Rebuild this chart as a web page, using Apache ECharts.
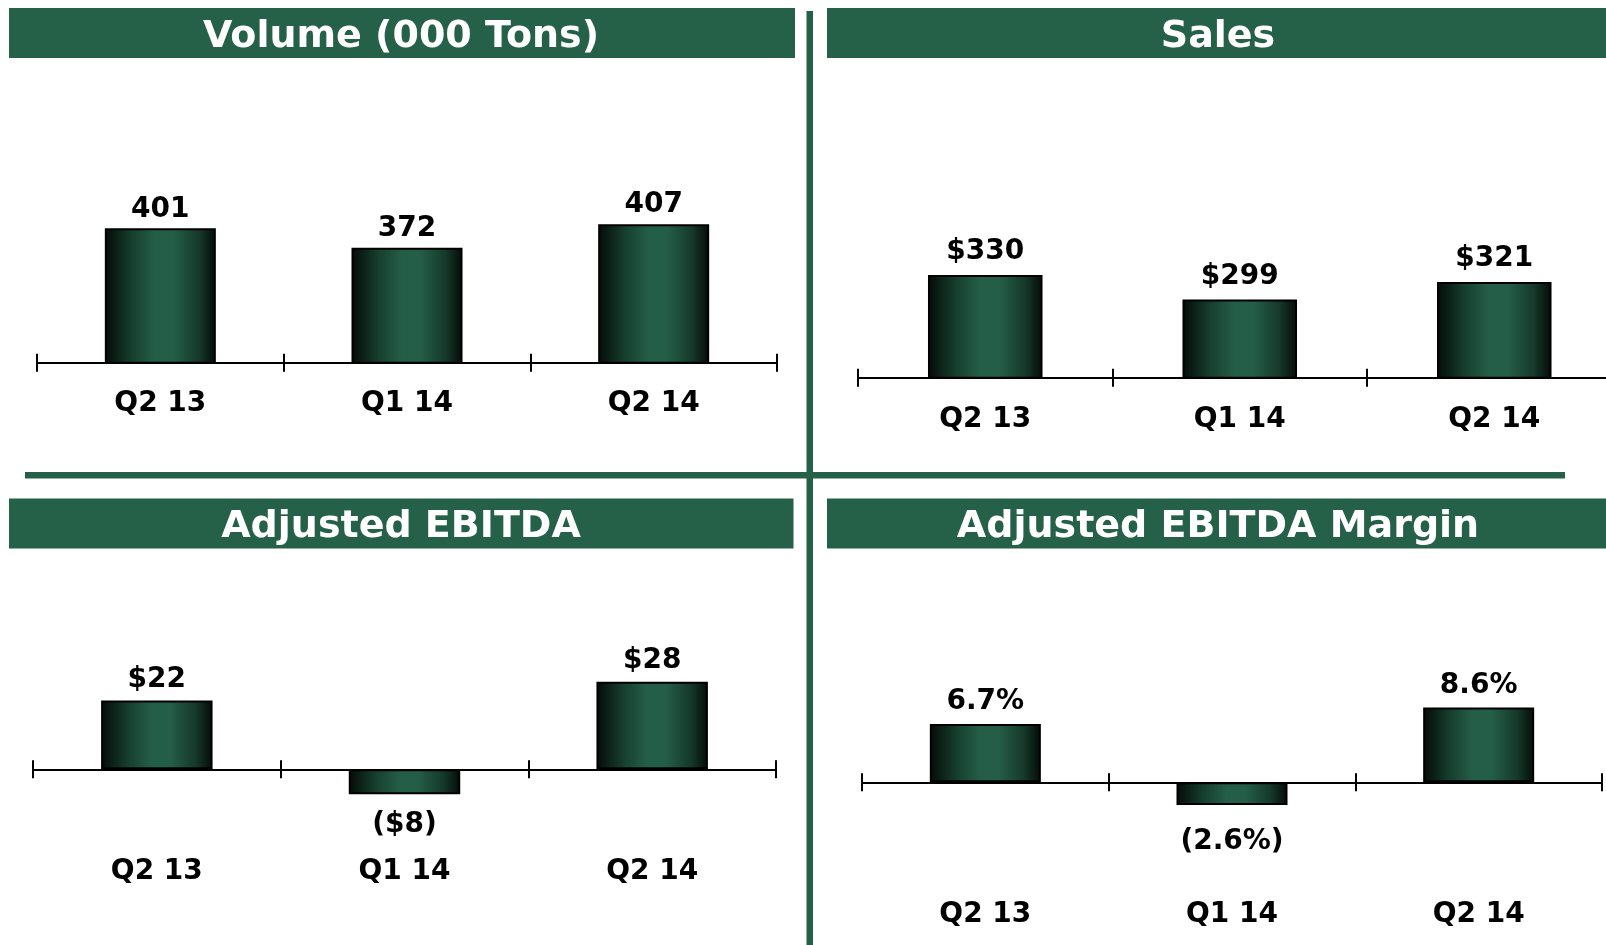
<!DOCTYPE html>
<html>
<head>
<meta charset="utf-8">
<script src="https://cdn.jsdelivr.net/npm/echarts@6/dist/echarts.min.js"></script>
<style>
  html, body { margin: 0; padding: 0; background: #fff; }
  #chart { width: 1606px; height: 945px; }
</style>
</head>
<body>
<div id="chart"></div>
<script>
const quarters = ['Q2 13', 'Q1 14', 'Q2 14'];
const volume = [401, 372, 407];
const sales = [330, 299, 321];
const ebitda = [22, -8, 28];
const ebitdaMargin = [6.7, -2.6, 8.6];

const titles = ['Volume (000 Tons)', 'Sales', 'Adjusted EBITDA', 'Adjusted EBITDA Margin'];

const GREEN = '#256049';
const FONT = 'DejaVu Sans';

const chart = echarts.init(document.getElementById('chart'));

// one grid per panel, in px
const panels = [
  { left: 37, top: 162, width: 740, height: 200.7 },
  { left: 858, top: 140.7, width: 763.5, height: 237 },
  { left: 33, top: 612.8, width: 743, height: 219.1 },
  { left: 862, top: 651.8, width: 740, height: 174 },
];
const yRanges = [[200, 500], [200, 500], [-20, 50], [-5, 15]];
// label margin is measured from the grid bottom, not from the zero line
const labelMargins = [27, 28, 26, 75];
const labelDist = [[5, 0], [9, 0], [7, 16], [8, 23]];

const fmt = [
  (v) => String(v),
  (v) => '$' + v,
  (v) => (v < 0 ? '($' + Math.abs(v) + ')' : '$' + v),
  (v) => (v < 0 ? '(' + Math.abs(v).toFixed(1) + '%)' : v.toFixed(1) + '%'),
];
const seriesData = [volume, sales, ebitda, ebitdaMargin];

const barColor = new echarts.graphic.LinearGradient(0, 0, 1, 0, [
  { offset: 0, color: '#040b08' },
  { offset: 0.25, color: '#17402f' },
  { offset: 0.45, color: '#245e48' },
  { offset: 0.62, color: '#245e48' },
  { offset: 0.85, color: '#15382a' },
  { offset: 1, color: '#040b08' },
]);

const grids = [];
const xAxes = [];
const yAxes = [];
const series = [];

panels.forEach((g, i) => {
  // main grid + an identical overlay grid that only carries the upward ticks
  for (let k = 0; k < 2; k++) {
    const gi = grids.length;
    grids.push({ ...g, containLabel: false, outerBoundsMode: 'none' });
    xAxes.push({
      type: 'category',
      gridIndex: gi,
      position: 'bottom',
      data: quarters,
      axisLine: { onZero: true, lineStyle: { color: '#000', width: 2 } },
      axisTick: { show: true, inside: k === 1, length: 9, lineStyle: { color: '#000', width: 2 } },
      axisLabel: k === 1 ? { show: false } : {
        margin: labelMargins[i],
        color: '#000',
        fontFamily: FONT,
        fontWeight: 'bold',
        fontSize: 28,
      },
    });
    yAxes.push({
      type: 'value',
      gridIndex: gi,
      min: yRanges[i][0],
      max: yRanges[i][1],
      show: false,
      splitLine: { show: false },
    });
  }
  series.push({
    type: 'bar',
    xAxisIndex: i * 2,
    yAxisIndex: i * 2,
    barWidth: '45%',
    itemStyle: { color: barColor, borderColor: '#000', borderWidth: 2 },
    label: {
      show: true,
      color: '#000',
      fontFamily: FONT,
      fontWeight: 'bold',
      fontSize: 28,
      formatter: (p) => fmt[i](p.value),
    },
    data: seriesData[i].map((v) => ({
      value: v,
      label: {
        position: v < 0 ? 'bottom' : 'top',
        distance: v < 0 ? labelDist[i][1] : labelDist[i][0],
      },
    })),
  });
});

// title bars and panel dividers
const titleBars = [
  { x: 9, y: 8, w: 786, h: 50, cx: 401 },
  { x: 827, y: 8, w: 780, h: 50, cx: 1218 },
  { x: 9, y: 498.5, w: 784.5, h: 50, cx: 401 },
  { x: 827, y: 498.5, w: 780, h: 50, cx: 1218 },
];
const graphic = [];
titleBars.forEach((b, i) => {
  graphic.push({
    type: 'rect',
    shape: { x: b.x, y: b.y, width: b.w, height: b.h },
    style: { fill: GREEN },
  });
  graphic.push({
    type: 'text',
    x: b.cx,
    y: b.y + b.h / 2 + 4,
    style: {
      text: titles[i],
      fill: '#fff',
      font: 'bold 38px "DejaVu Sans"',
      textAlign: 'center',
      textVerticalAlign: 'middle',
    },
  });
});
graphic.push({ type: 'rect', shape: { x: 25, y: 472, width: 1540, height: 6.5 }, style: { fill: GREEN } });
graphic.push({ type: 'rect', shape: { x: 806.5, y: 11, width: 6.5, height: 934 }, style: { fill: GREEN } });

chart.setOption({
  animation: false,
  grid: grids,
  xAxis: xAxes,
  yAxis: yAxes,
  series,
  graphic,
});
</script>
</body>
</html>
